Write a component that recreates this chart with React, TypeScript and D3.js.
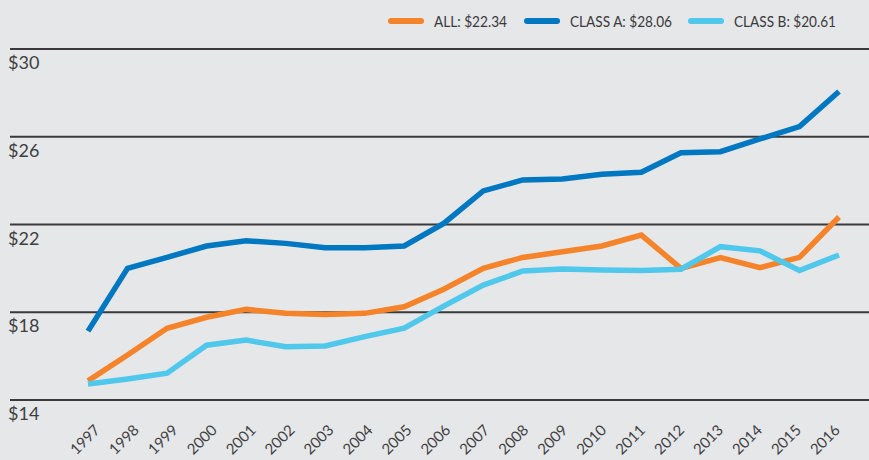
import React from "react";
import * as d3 from "d3";

const years = [
  "1997","1998","1999","2000","2001","2002","2003","2004","2005","2006",
  "2007","2008","2009","2010","2011","2012","2013","2014","2015","2016",
];
const allValues = [14.87,16.05,17.27,17.77,18.13,17.95,17.9,17.95,18.25,19.05,20.0,20.5,20.76,21.02,21.52,20.0,20.49,20.03,20.5,22.34];
const classAValues = [17.14,20.0,20.5,21.02,21.26,21.14,20.94,20.94,21.02,22.05,23.53,24.03,24.07,24.29,24.38,25.27,25.32,25.9,26.46,28.06];
const classBValues = [14.73,14.96,15.22,16.5,16.73,16.43,16.46,16.89,17.27,18.28,19.24,19.88,19.97,19.93,19.9,19.96,20.99,20.8,19.9,20.61];
const yTicks = [14, 18, 22, 26, 30];
const seriesNames = ["ALL: $22.34", "CLASS A: $28.06", "CLASS B: $20.61"];
const seriesColors = ["#f5832a", "#0077c1", "#4fc8ec"];

const W = 869;
const H = 460;

export default function App() {
  const x = d3.scalePoint<string>().domain(years).range([88, 839]);
  const xLabel = d3.scalePoint<string>().domain(years).range([101, 841]);
  const y = d3.scaleLinear().domain([14, 30]).range([400, 49]);
  const line = d3
    .line<number>()
    .x((_, i) => x(years[i]) as number)
    .y((d) => y(d));
  const series = [allValues, classAValues, classBValues];
  const legendX = [388, 524, 688];
  const legendW = [73, 102, 102];
  const font = "'Liberation Sans Narrow', 'Lato', sans-serif";

  return (
    <svg
      width={W}
      height={H}
      style={{ position: "absolute", left: 0, top: 0, background: "#e6e7e9" }}
    >
      <rect x={0} y={0} width={W} height={H} fill="#e6e7e9" />
      {yTicks.map((t) => (
        <g key={t}>
          <line x1={10} x2={W} y1={y(t)} y2={y(t)} stroke="#3a3a3c" strokeWidth={2} />
          <text
            x={8}
            y={y(t) + 20}
            fontFamily="Lato, sans-serif"
            fontSize={18}
            fill="#3f3f42"
          >
            {"$" + t}
          </text>
        </g>
      ))}
      {series.map((s, k) => (
        <path
          key={k}
          d={line(s) || ""}
          fill="none"
          stroke={seriesColors[k]}
          strokeWidth={5.5}
          strokeLinejoin="miter"
        />
      ))}
      {years.map((yr) => (
        <text
          key={yr}
          transform={`translate(${xLabel(yr)},431) rotate(-45)`}
          textAnchor="end"
          fontFamily="Lato, sans-serif"
          fontSize={15}
          fill="#3f3f42"
        >
          {yr}
        </text>
      ))}
      {seriesNames.map((n, k) => (
        <g key={n}>
          <line
            x1={legendX[k] + 3}
            x2={legendX[k] + 33}
            y1={21}
            y2={21}
            stroke={seriesColors[k]}
            strokeWidth={6}
            strokeLinecap="round"
          />
          <text
            x={legendX[k] + 46}
            y={27}
            fontFamily={font}
            fontSize={16}
            fill="#3a3a3c"
            textLength={legendW[k]}
            lengthAdjust="spacingAndGlyphs"
          >
            {n}
          </text>
        </g>
      ))}
    </svg>
  );
}
